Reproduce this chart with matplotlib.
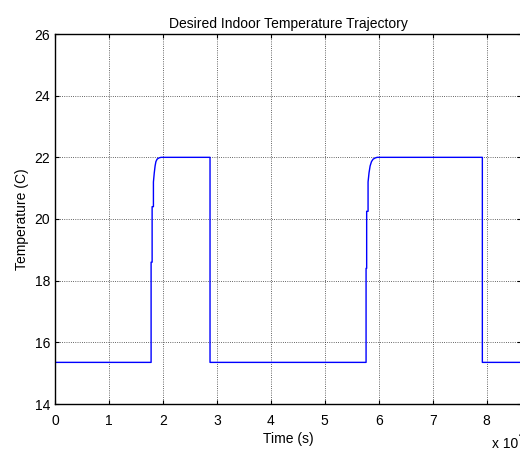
import matplotlib
matplotlib.use("Agg")
import matplotlib.pyplot as plt

# Data (time in seconds, temperature in C)
time_s = [0, 17810, 17810, 18000, 18000, 18240, 18240, 18400, 18550, 18700,
          18920, 19250, 19650, 28730, 28730,
          57650, 57650, 57760, 57760, 58020, 58020, 58200, 58400, 58650,
          58950, 59350, 59700, 79200, 79200, 86400]
temp_c = [15.35, 15.35, 18.6, 18.6, 20.4, 20.4, 21.2, 21.5, 21.72, 21.86,
          21.94, 21.98, 22.0, 22.0, 15.35,
          15.35, 18.4, 18.4, 20.25, 20.25, 21.2, 21.5, 21.72, 21.86,
          21.94, 21.98, 22.0, 22.0, 15.35, 15.35]

xticks = [0, 10000, 20000, 30000, 40000, 50000, 60000, 70000, 80000]
xticklabels = ["0", "1", "2", "3", "4", "5", "6", "7", "8"]
yticks = [14, 16, 18, 20, 22, 24, 26]

plt.rcParams['font.family'] = ['Liberation Sans', 'DejaVu Sans']

fig = plt.figure(figsize=(5.2, 4.5), dpi=100)
ax = fig.add_axes([55/520, 1 - 404/450, (521.2 - 55)/520, (404 - 34)/450])

ax.plot(time_s, temp_c, color=(0, 0, 1), lw=1.0)

ax.set_xlim(0, 86400)
ax.set_ylim(14, 26)
ax.set_xticks(xticks)
ax.set_xticklabels(xticklabels)
ax.set_yticks(yticks)
ax.tick_params(direction='in', length=3, width=0.8, top=True, right=True,
               labelsize=10, colors='black')
ax.tick_params(axis='x', pad=7)
ax.tick_params(axis='y', pad=3.5)
ax.grid(True, color='black', linestyle=':', linewidth=0.6, alpha=0.8)
for s in ax.spines.values():
    s.set_linewidth(1.0)
    s.set_color('black')

ax.set_title("Desired Indoor Temperature Trajectory", fontsize=10, pad=4)
ax.set_xlabel("Time (s)", fontsize=10, labelpad=3)
ax.set_ylabel("Temperature (C)", fontsize=10, labelpad=4)
fig.text(492/520, 1 - 448/450, "x 10", fontsize=10, ha='left', va='baseline')
fig.text(518.5/520, 1 - 438/450, "4", fontsize=7, ha='left', va='baseline')

fig.savefig("out.png", dpi=100)
